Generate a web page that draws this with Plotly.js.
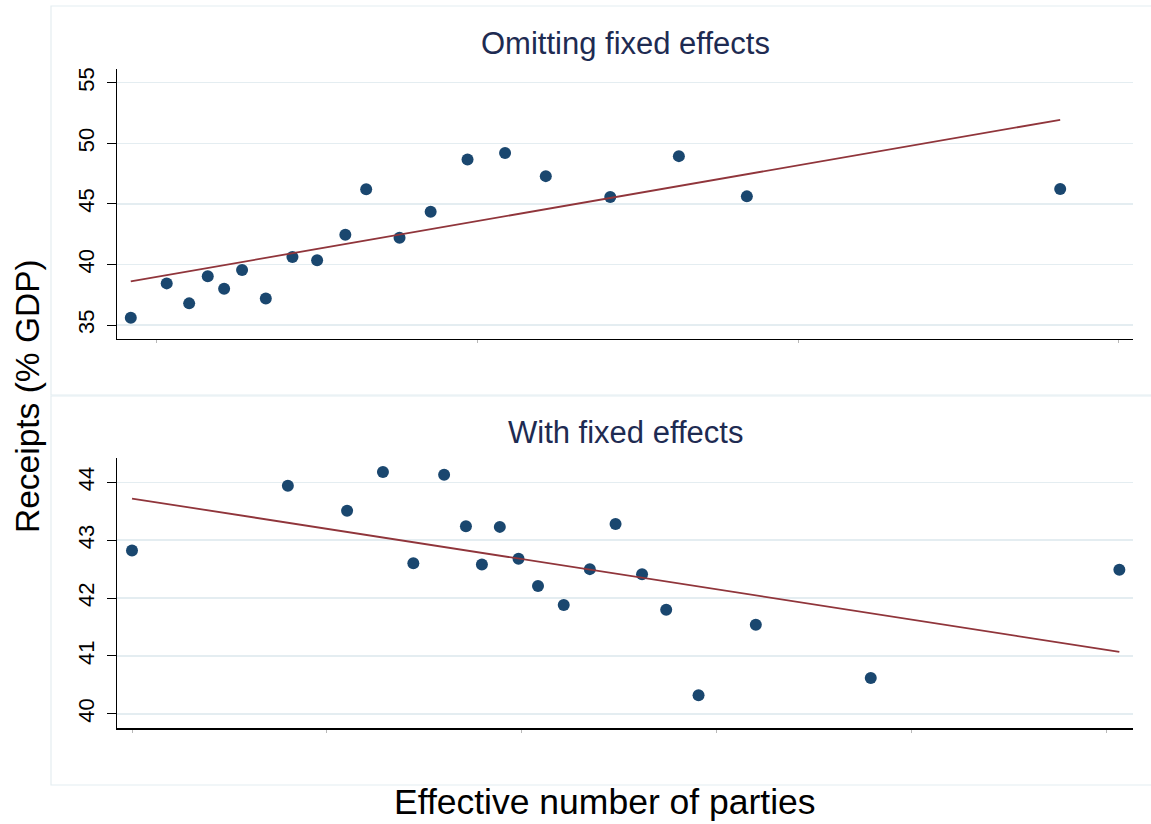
<!DOCTYPE html>
<html><head><meta charset="utf-8">
<script src="https://cdn.plot.ly/plotly-3.0.1.min.js"></script>
<style>html,body{margin:0;padding:0;background:#fff}#chart{width:1151px;height:824px}</style>
</head><body><div id="chart"></div>
<script>
// ---- data ----
const topX = [1.919, 2.031, 2.101, 2.159, 2.210, 2.266, 2.340, 2.423, 2.500, 2.588,
              2.653, 2.757, 2.854, 2.969, 3.086, 3.213, 3.414, 3.628, 3.840, 4.817];
const topY = [35.60, 38.44, 36.79, 39.02, 38.00, 39.54, 37.20, 40.61, 40.34, 42.45,
              46.20, 42.20, 44.35, 48.67, 49.19, 47.29, 45.56, 48.94, 45.62, 46.22];
const topFitX = [1.919, 4.817];
const topFitY = [38.61, 51.94];

const botX = [-1.000, -0.600, -0.448, -0.356, -0.278, -0.199, -0.143, -0.102, -0.056, -0.008,
              0.042, 0.108, 0.175, 0.241, 0.309, 0.371, 0.454, 0.601, 0.896, 1.534];
const botY = [42.82, 43.94, 43.51, 44.18, 42.60, 44.13, 43.24, 42.58, 43.23, 42.68,
              42.21, 41.88, 42.50, 43.28, 42.41, 41.80, 40.32, 41.54, 40.62, 42.49];
const botFitX = [-1.000, 1.534];
const botFitY = [43.72, 41.07];

const topYTicks = [35, 40, 45, 50, 55];
const botYTicks = [40, 41, 42, 43, 44];
const topXTicks = [2, 3, 4, 5];
const botXTicks = [-1, -0.5, 0, 0.5, 1, 1.5];
const subTitles = ['Omitting fixed effects', 'With fixed effects'];
const yTitle = 'Receipts (% GDP)';
const xTitle = 'Effective number of parties';

// ---- layout helpers ----
const W = 1151, H = 824;
const px = x => x / W;
const py = y => 1 - y / H;
const FONT = 'Liberation Sans, Arial, Helvetica, sans-serif';
const NAVY = '#1a476f', MAROON = '#90353b', GRID = '#e4edf1', TITLE = '#1e2b52';

const traces = [
  {x: topX, y: topY, xaxis: 'x', yaxis: 'y', type: 'scatter', mode: 'markers',
   marker: {color: NAVY, size: 12}, hoverinfo: 'x+y'},
  {x: topFitX, y: topFitY, xaxis: 'x', yaxis: 'y', type: 'scatter', mode: 'lines',
   line: {color: MAROON, width: 1.8}},
  {x: botX, y: botY, xaxis: 'x2', yaxis: 'y2', type: 'scatter', mode: 'markers',
   marker: {color: NAVY, size: 12}, hoverinfo: 'x+y'},
  {x: botFitX, y: botFitY, xaxis: 'x2', yaxis: 'y2', type: 'scatter', mode: 'lines',
   line: {color: MAROON, width: 1.8}}
];

function xAx(domain, range, ticks, anchor) {
  return {domain, range, anchor, tickvals: ticks, showticklabels: false,
    ticks: 'outside', ticklen: 3, tickcolor: '#b8b8b8', tickwidth: 1,
    showline: true, linecolor: '#000', linewidth: 1.2, showgrid: false, zeroline: false,
    fixedrange: true};
}
function yAx(domain, range, ticks, anchor) {
  return {domain, range, anchor, tickvals: ticks, ticktext: ticks.map(String),
    ticks: 'outside', ticklen: 9, tickcolor: '#000', tickwidth: 1,
    tickangle: -90, tickfont: {family: FONT, size: 22, color: '#000'},
    ticklabelstandoff: 4,
    showline: true, linecolor: '#000', linewidth: 1.2,
    showgrid: true, gridcolor: GRID, gridwidth: 1.5, zeroline: false, fixedrange: true};
}

const layout = {
  width: W, height: H,
  margin: {l: 0, r: 0, t: 0, b: 0},
  paper_bgcolor: '#fff', plot_bgcolor: '#fff',
  showlegend: false,
  font: {family: FONT},
  xaxis: xAx([px(117), px(1133)], [1.876, 5.044], topXTicks, 'y'),
  yaxis: yAx([py(339), py(69)], [33.85, 56.13], topYTicks, 'x'),
  xaxis2: xAx([px(117), px(1133)], [-1.0385, 1.569], botXTicks, 'y2'),
  yaxis2: yAx([py(728.3), py(458)], [39.75, 44.42], botYTicks, 'x2'),
  shapes: [
    {type: 'rect', xref: 'paper', yref: 'paper', x0: px(51), x1: px(1160), y0: py(395), y1: py(6),
     line: {color: GRID, width: 1.2}, layer: 'below'},
    {type: 'rect', xref: 'paper', yref: 'paper', x0: px(51), x1: px(1160), y0: py(785), y1: py(396),
     line: {color: GRID, width: 1.2}, layer: 'below'}
  ],
  annotations: [
    {text: subTitles[0], xref: 'paper', yref: 'paper', x: px(625), y: py(44),
     xanchor: 'center', yanchor: 'middle', showarrow: false,
     font: {family: FONT, size: 31, color: TITLE}},
    {text: subTitles[1], xref: 'paper', yref: 'paper', x: px(625), y: py(432),
     xanchor: 'center', yanchor: 'middle', showarrow: false,
     font: {family: FONT, size: 31, color: TITLE}},
    {text: yTitle, xref: 'paper', yref: 'paper', x: px(27), y: py(396),
     xanchor: 'center', yanchor: 'middle', textangle: -90, showarrow: false,
     font: {family: FONT, size: 33.5, color: '#000'}},
    {text: xTitle, xref: 'paper', yref: 'paper', x: px(604.5), y: py(802),
     xanchor: 'center', yanchor: 'middle', showarrow: false,
     font: {family: FONT, size: 35.5, color: '#000'}}
  ]
};

Plotly.newPlot('chart', traces, layout, {displayModeBar: false, staticPlot: true});
</script>
</body></html>
